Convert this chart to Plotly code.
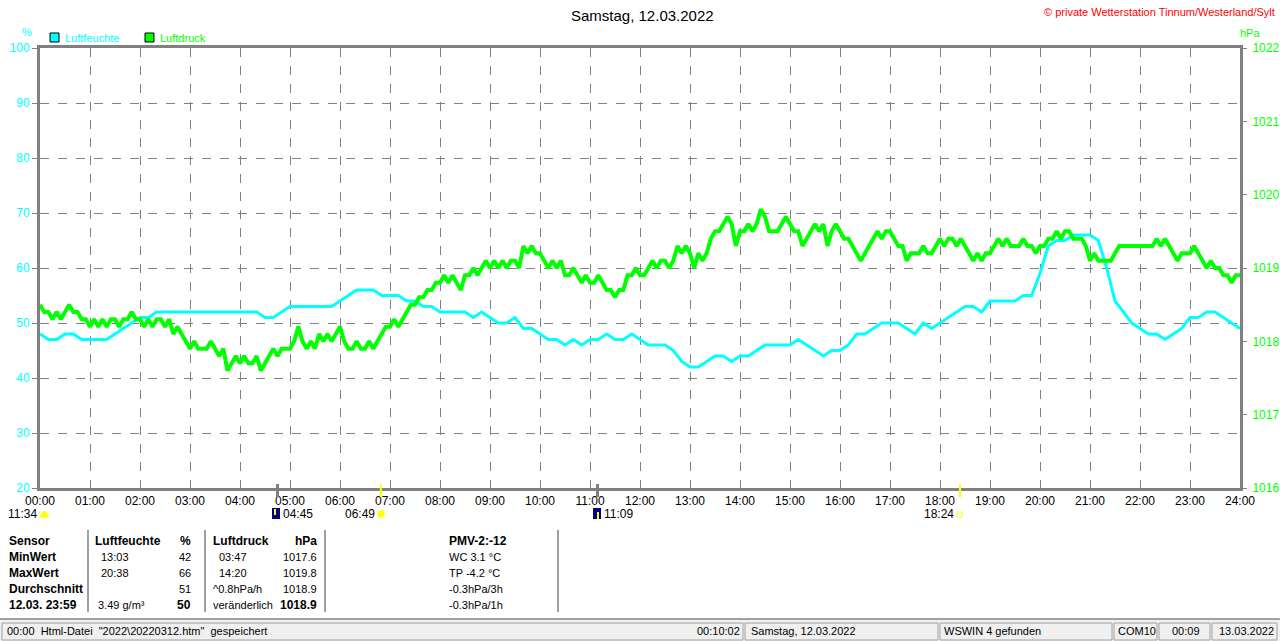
import plotly.graph_objects as go

# ---------------- data ----------------
hour_labels = ["%02d:00" % h for h in range(25)]

# relative humidity (%), one value every 10 minutes, 00:00 .. 24:00
humidity = [
    48, 47, 47, 48, 48, 47,
    47, 47, 47, 48, 49, 50,
    51, 51, 52, 52, 52, 52,
    52, 52, 52, 52, 52, 52,
    52, 52, 52, 51, 51, 52,
    53, 53, 53, 53, 53, 53,
    54, 55, 56, 56, 56, 55,
    55, 55, 54, 54, 53, 53,
    52, 52, 52, 52, 51, 52,
    51, 50, 50, 51, 49, 49,
    48, 47, 47, 46, 47, 46,
    47, 47, 48, 47, 47, 48,
    47, 46, 46, 46, 45, 43,
    42, 42, 43, 44, 44, 43,
    44, 44, 45, 46, 46, 46,
    46, 47, 46, 45, 44, 45,
    45, 46, 48, 48, 49, 50,
    50, 50, 49, 48, 50, 49,
    50, 51, 52, 53, 53, 52,
    54, 54, 54, 54, 55, 55,
    59, 64, 65, 65, 66, 66,
    66, 65, 60, 54, 52, 50,
    49, 48, 48, 47, 48, 49,
    51, 51, 52, 52, 51, 50,
    49,
]

# air pressure (hPa), one value every 5 minutes, 00:00 .. 24:00
pressure = [
    1018.5, 1018.4, 1018.4, 1018.3, 1018.4, 1018.3, 1018.4, 1018.5, 1018.4, 1018.4, 1018.3, 1018.3,
    1018.2, 1018.3, 1018.2, 1018.3, 1018.2, 1018.3, 1018.3, 1018.2, 1018.3, 1018.3, 1018.4, 1018.3,
    1018.3, 1018.2, 1018.3, 1018.2, 1018.3, 1018.3, 1018.2, 1018.3, 1018.1, 1018.2, 1018.1, 1018.0,
    1017.9, 1018.0, 1017.9, 1017.9, 1017.9, 1018.0, 1017.9, 1017.8, 1017.9, 1017.6, 1017.7, 1017.8,
    1017.7, 1017.8, 1017.7, 1017.7, 1017.8, 1017.6, 1017.7, 1017.8, 1017.9, 1017.8, 1017.9, 1017.9,
    1017.9, 1018.0, 1018.2, 1018.0, 1017.9, 1018.0, 1017.9, 1018.1, 1018.0, 1018.1, 1018.0, 1018.1,
    1018.2, 1018.0, 1017.9, 1017.9, 1018.0, 1017.9, 1017.9, 1018.0, 1017.9, 1018.0, 1018.1, 1018.2,
    1018.2, 1018.3, 1018.2, 1018.3, 1018.4, 1018.5, 1018.5, 1018.6, 1018.6, 1018.7, 1018.7, 1018.8,
    1018.8, 1018.9, 1018.8, 1018.9, 1018.8, 1018.7, 1018.9, 1018.9, 1019.0, 1018.9, 1019.0, 1019.1,
    1019.0, 1019.1, 1019.0, 1019.1, 1019.0, 1019.1, 1019.1, 1019.0, 1019.3, 1019.2, 1019.3, 1019.2,
    1019.2, 1019.1, 1019.0, 1019.1, 1019.0, 1019.1, 1018.9, 1018.9, 1019.0, 1018.9, 1018.8, 1018.9,
    1018.8, 1018.8, 1018.9, 1018.8, 1018.7, 1018.7, 1018.6, 1018.7, 1018.7, 1018.9, 1018.9, 1019.0,
    1018.9, 1018.9, 1019.0, 1019.1, 1019.0, 1019.1, 1019.1, 1019.0, 1019.1, 1019.3, 1019.2, 1019.3,
    1019.2, 1019.0, 1019.2, 1019.1, 1019.2, 1019.4, 1019.5, 1019.5, 1019.6, 1019.7, 1019.6, 1019.3,
    1019.5, 1019.5, 1019.6, 1019.5, 1019.6, 1019.8, 1019.7, 1019.5, 1019.5, 1019.5, 1019.6, 1019.7,
    1019.6, 1019.5, 1019.5, 1019.3, 1019.4, 1019.5, 1019.6, 1019.5, 1019.6, 1019.3, 1019.5, 1019.6,
    1019.5, 1019.4, 1019.4, 1019.3, 1019.2, 1019.1, 1019.2, 1019.3, 1019.4, 1019.5, 1019.4, 1019.5,
    1019.5, 1019.4, 1019.3, 1019.3, 1019.1, 1019.2, 1019.2, 1019.2, 1019.3, 1019.2, 1019.2, 1019.3,
    1019.4, 1019.3, 1019.4, 1019.4, 1019.3, 1019.4, 1019.3, 1019.2, 1019.1, 1019.2, 1019.1, 1019.2,
    1019.2, 1019.3, 1019.4, 1019.3, 1019.4, 1019.3, 1019.3, 1019.3, 1019.4, 1019.3, 1019.3, 1019.2,
    1019.3, 1019.3, 1019.4, 1019.4, 1019.5, 1019.4, 1019.5, 1019.5, 1019.4, 1019.4, 1019.4, 1019.3,
    1019.1, 1019.2, 1019.1, 1019.1, 1019.1, 1019.1, 1019.2, 1019.3, 1019.3, 1019.3, 1019.3, 1019.3,
    1019.3, 1019.3, 1019.3, 1019.3, 1019.4, 1019.3, 1019.4, 1019.3, 1019.2, 1019.1, 1019.2, 1019.2,
    1019.2, 1019.3, 1019.2, 1019.1, 1019.0, 1019.1, 1019.0, 1019.0, 1018.9, 1018.9, 1018.8, 1018.9,
    1018.9,
]

hum_time = [i / 6 for i in range(len(humidity))]
pres_time = [i / 12 for i in range(len(pressure))]

# astronomical events (hours)
event_moonrise = 4 + 45 / 60
event_sunrise = 6 + 49 / 60
event_moonset = 11 + 9 / 60
event_sunset = 18 + 24 / 60

# table texts
table_rows = [
    ("Sensor", "Luftfeuchte", "%", "Luftdruck", "hPa", "PMV-2:-12"),
    ("MinWert", "13:03", "42", "03:47", "1017.6", "WC 3.1 °C"),
    ("MaxWert", "20:38", "66", "14:20", "1019.8", "TP -4.2 °C"),
    ("Durchschnitt", "", "51", "^0.8hPa/h", "1018.9", "-0.3hPa/3h"),
    ("12.03. 23:59", "3.49 g/m³", "50", "veränderlich", "1018.9", "-0.3hPa/1h"),
]

# ---------------- layout helpers ----------------
L, R, T, B = 40, 1240, 48, 488
FONT = "Liberation Sans, Arial, sans-serif"
CYAN = "#00FFFF"
GREEN = "#00FF00"
GRAY = "#808080"


def PX(x):
    return (x - L) / (R - L)


def PY(y):
    return (B - y) / (B - T)


annotations = []
shapes = []


def text(x, y, s, color="black", size=12, xanchor="left", bold=False):
    if bold:
        s = "<b>" + s + "</b>"
    annotations.append(dict(x=PX(x), y=PY(y), xref="paper", yref="paper", text=s,
                            showarrow=False, xanchor=xanchor, yanchor="middle",
                            font=dict(family=FONT, size=size, color=color),
                            borderpad=0))


def rect(x0, y0, x1, y1, fill=None, line=None, lw=1):
    shapes.append(dict(type="rect", xref="paper", yref="paper",
                       x0=PX(x0), x1=PX(x1), y0=PY(y0), y1=PY(y1),
                       fillcolor=fill if fill else "rgba(0,0,0,0)",
                       line=dict(color=line if line else "rgba(0,0,0,0)", width=lw),
                       layer="above"))


def hline(x0, x1, y, color, w=1):
    shapes.append(dict(type="line", xref="paper", yref="paper", x0=PX(x0), x1=PX(x1),
                       y0=PY(y), y1=PY(y), line=dict(color=color, width=w)))


def vline_px(x, y0, y1, color, w=1):
    shapes.append(dict(type="line", xref="paper", yref="paper", x0=PX(x), x1=PX(x),
                       y0=PY(y0), y1=PY(y1), line=dict(color=color, width=w)))


def vline_t(t, y0, y1, color, w=1):
    shapes.append(dict(type="line", xref="x", yref="paper", x0=t, x1=t,
                       y0=PY(y0), y1=PY(y1), line=dict(color=color, width=w)))


# ---------------- figure ----------------
fig = go.Figure()
fig.add_trace(go.Scatter(x=hum_time, y=humidity, mode="lines", name="Luftfeuchte",
                         line=dict(color=CYAN, width=3), yaxis="y"))
fig.add_trace(go.Scatter(x=pres_time, y=pressure, mode="lines", name="Luftdruck",
                         line=dict(color=GREEN, width=4), yaxis="y2"))

# header texts
text(642, 15, "Samstag, 12.03.2022", size=15, xanchor="center")
text(1276, 12, "© private Wetterstation Tinnum/Westerland/Sylt", color="#FF0000", size=11, xanchor="right")
text(27, 32, "%", color=CYAN, size=11, xanchor="center")
text(1250, 33, "hPa", color=GREEN, size=11, xanchor="center")
rect(50, 33, 59, 42, fill=CYAN, line="black")
text(64, 38, "Luftfeuchte", color=CYAN, size=11)
rect(145, 33, 154, 42, fill=GREEN, line="black")
text(159, 38, "Luftdruck", color=GREEN, size=11)

# event markers below the x axis
vline_t(event_moonrise, 484, 497, GRAY, 3)
vline_t(event_sunrise, 484, 497, "#FFFF00", 2)
vline_t(event_moonset, 484, 497, GRAY, 3)
vline_t(event_sunset, 484, 497, "#FFFF00", 2)

text(38, 514, "11:34", xanchor="right")
shapes.append(dict(type="path", xref="paper", yref="paper",
                   path="M %f,%f Q %f,%f %f,%f Z" % (PX(40), PY(517), PX(44), PY(506), PX(49), PY(517)),
                   fillcolor="#FFFF00", line=dict(color="#FFFF00", width=1)))
rect(272, 508, 280, 519, fill="#000080")
vline_px(275, 509, 515, "#FFFF00", 2)
text(282, 514, "04:45")
text(376, 514, "06:49", xanchor="right")
shapes.append(dict(type="circle", xref="paper", yref="paper",
                   x0=PX(377), x1=PX(385), y0=PY(510), y1=PY(518),
                   fillcolor="#FFFF00", line=dict(color="#FFFF99", width=1)))
rect(593, 508, 601, 519, fill="#000080")
vline_px(598, 512, 519, "#FFFF00", 2)
text(603, 514, "11:09")
text(955, 514, "18:24", xanchor="right")
rect(957, 512, 962, 517, line="#FFFF00", lw=1)

# statistics table
col_x = [8, 100, 192, 218, 318, 448]
col_anchor = ["left", "left", "right", "left", "right", "left"]
row_y = [541, 557, 573, 589, 605]
for r, row in enumerate(table_rows):
    for c, s in enumerate(row):
        if not s:
            continue
        x = col_x[c]
        if r == 0 and c == 1:
            x = 94
        if r == 0 and c == 3:
            x = 212
        if r >= 3 and c == 3:
            x = 212
        if r == 4 and c == 1:
            x = 97
        bold = (r == 0) or (c == 0) or (r == 4 and c in (2, 4))
        text(x, row_y[r], s, bold=bold, xanchor=col_anchor[c], size=12 if bold else 11)
for sx in (88, 205, 325, 558):
    vline_px(sx, 530, 612, "#A0A0A0", 2)

# status bar
rect(0, 620, 1280, 641, fill="#F0F0F0")
hline(0, 1280, 619, "#A0A0A0", 2)
panels = [(2, 743), (745, 938), (940, 1112), (1114, 1157), (1159, 1210), (1212, 1277)]
for x0, x1 in panels:
    rect(x0, 623, x1, 640, line="#A0A0A0", lw=1)
text(6, 631, '00:00  Html-Datei  "2022\\20220312.htm"  gespeichert', size=11)
text(741, 631, "00:10:02", xanchor="right", size=11)
text(750, 631, "Samstag, 12.03.2022", size=11)
text(943, 631, "WSWIN 4 gefunden", size=11)
text(1117, 631, "COM10", size=11)
text(1171, 631, "00:09", size=11)
text(1218, 631, "13.03.2022", size=11)

fig.update_layout(
    width=1280, height=641,
    margin=dict(l=L, r=1280 - R, t=T, b=641 - B, autoexpand=False),
    paper_bgcolor="white", plot_bgcolor="white",
    showlegend=False,
    font=dict(family=FONT, size=12, color="black"),
    xaxis=dict(range=[0, 24], tickmode="array", tickvals=list(range(25)), ticktext=hour_labels,
               showgrid=True, gridcolor=GRAY, griddash="dash", gridwidth=1,
               showline=True, linecolor=GRAY, linewidth=3, mirror=True, automargin=False,
               ticks="", zeroline=False, tickfont=dict(family=FONT, size=12, color="black")),
    yaxis=dict(range=[20, 100], dtick=10, showgrid=True, gridcolor=GRAY, griddash="dash",
               showline=True, linecolor=GRAY, linewidth=3, mirror=True, automargin=False,
               ticks="outside", ticklen=5, tickcolor=GRAY, zeroline=False,
               tickfont=dict(family=FONT, size=12, color=CYAN)),
    yaxis2=dict(range=[1016, 1022], dtick=1, overlaying="y", side="right", showgrid=False,
                ticks="outside", ticklen=6, tickcolor=GRAY, zeroline=False, automargin=False,
                tickformat="d", ticklabelstandoff=3,
                tickfont=dict(family=FONT, size=12, color=GREEN)),
    annotations=annotations,
    shapes=shapes,
)

fig.write_html("out.html", config={"displayModeBar": False},
               post_script="document.body.style.margin='0';document.body.style.overflow='hidden';")
